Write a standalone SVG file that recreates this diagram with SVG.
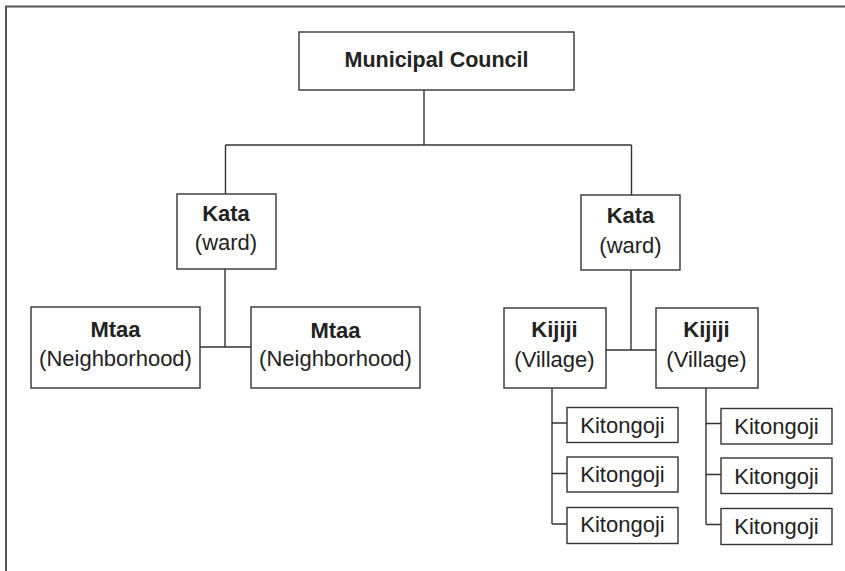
<svg xmlns="http://www.w3.org/2000/svg" width="845" height="571" viewBox="0 0 845 571">
<style>
.box{fill:#fff;stroke:#333;stroke-width:1.4}
.ln{fill:none;stroke:#333;stroke-width:1.4}
.t{font-family:"Liberation Sans",Arial,sans-serif;font-size:22px;fill:#222;text-anchor:middle}
.b{font-weight:bold}
</style>
<rect width="845" height="571" fill="#fff"/>
<path d="M6,571 V6.5 H845" fill="none" stroke="#555" stroke-width="2"/>
<g id="connectors" class="ln">
<path d="M424,90 V145 M225.5,145 H631.5 M225.5,145 V194 M631.5,145 V195"/>
<path d="M225,269 V347 M200,347 H251"/>
<path d="M631,270 V350 M606,350 H656"/>
<path d="M552,388 V524 M552,423 H567 M552,473.5 H567 M552,524 H567"/>
<path d="M706,388 V524.5 M706,423.5 H721 M706,474.5 H721 M706,524.5 H721"/>
</g>
<g id="council"><rect class="box" x="299" y="32" width="275" height="58"/><text class="t b" x="436.5" y="67" style="font-size:21.5px">Municipal Council</text></g>
<g id="kata-left"><rect class="box" x="177" y="194" width="99" height="75"/><text class="t b" x="226" y="221">Kata</text><text class="t" x="226" y="250">(ward)</text></g>
<g id="kata-right"><rect class="box" x="581" y="195" width="99" height="75"/><text class="t b" x="630.5" y="223">Kata</text><text class="t" x="630.5" y="252.5">(ward)</text></g>
<g id="mtaa-left"><rect class="box" x="31" y="307" width="169" height="81"/><text class="t b" x="115.5" y="337">Mtaa</text><text class="t" x="115.5" y="365.5">(Neighborhood)</text></g>
<g id="mtaa-right"><rect class="box" x="251" y="307" width="169" height="81"/><text class="t b" x="335.5" y="338">Mtaa</text><text class="t" x="335.5" y="366">(Neighborhood)</text></g>
<g id="kijiji-left"><rect class="box" x="504" y="308" width="102" height="80"/><text class="t b" x="554.5" y="337">Kijiji</text><text class="t" x="554.5" y="366.5">(Village)</text></g>
<g id="kijiji-right"><rect class="box" x="656" y="308" width="102" height="80"/><text class="t b" x="706.5" y="337">Kijiji</text><text class="t" x="706.5" y="366.5">(Village)</text></g>
<g id="kit-l1"><rect class="box" x="567" y="407.5" width="111" height="35"/><text class="t" x="622.5" y="432.5">Kitongoji</text></g>
<g id="kit-l2"><rect class="box" x="567" y="457" width="111" height="35"/><text class="t" x="622.5" y="482">Kitongoji</text></g>
<g id="kit-l3"><rect class="box" x="567" y="507.5" width="111" height="36"/><text class="t" x="622.5" y="532">Kitongoji</text></g>
<g id="kit-r1"><rect class="box" x="721" y="408.5" width="111" height="35.5"/><text class="t" x="776.5" y="433.5">Kitongoji</text></g>
<g id="kit-r2"><rect class="box" x="721" y="458" width="111" height="35.5"/><text class="t" x="776.5" y="483.5">Kitongoji</text></g>
<g id="kit-r3"><rect class="box" x="721" y="508.5" width="111" height="36"/><text class="t" x="776.5" y="533.5">Kitongoji</text></g>
</svg>
